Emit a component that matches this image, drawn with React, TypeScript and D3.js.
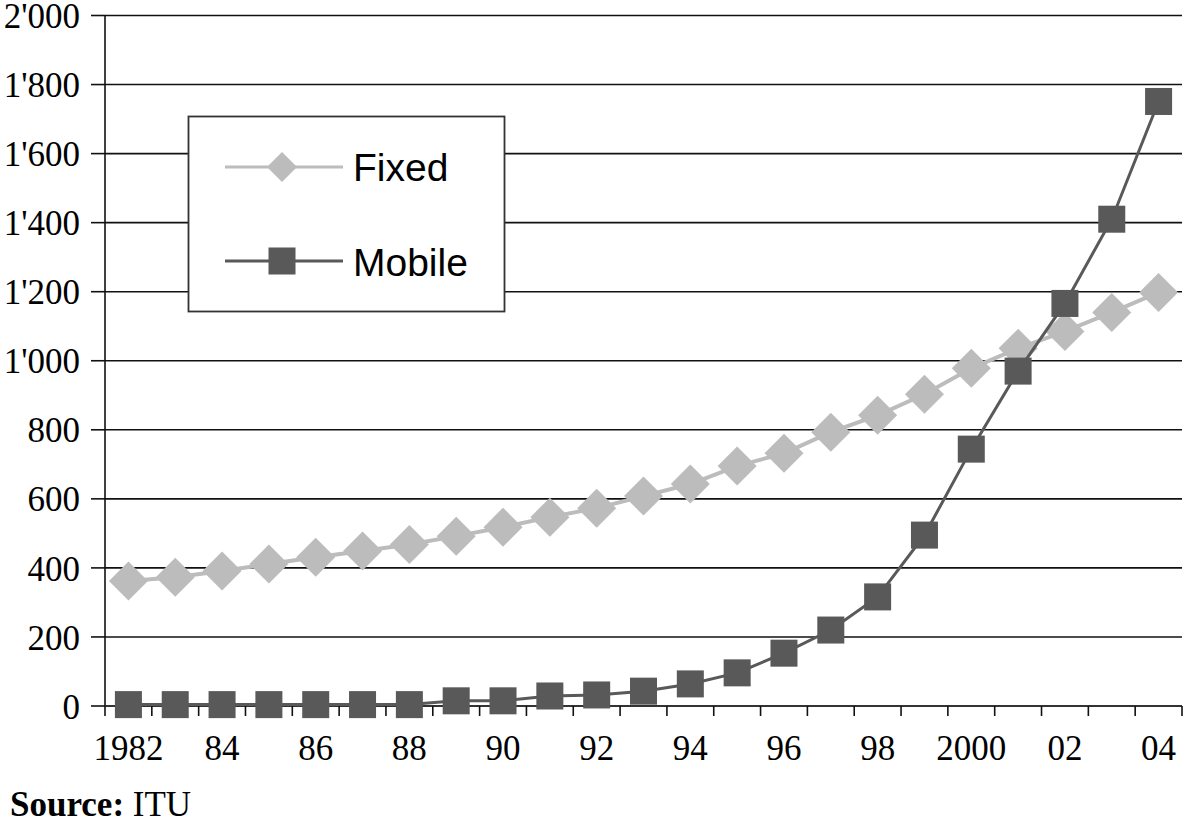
import React from "react";
import * as d3 from "d3";

const years = ["1982","1983","1984","1985","1986","1987","1988","1989","1990","1991","1992","1993","1994","1995","1996","1997","1998","1999","2000","2001","2002","2003","2004"];
const yearLabels = ["1982","","84","","86","","88","","90","","92","","94","","96","","98","","2000","","02","","04"];
const fixedValues = [362,373,391,411,431,449,468,492,518,547,573,608,643,695,732,793,842,903,978,1036,1085,1140,1198];
const mobileValues = [4,4,4,4,4,4,4,15,15,29,32,43,64,96,153,220,316,495,744,970,1166,1410,1751];
const yTicks = [0,200,400,600,800,1000,1200,1400,1600,1800,2000];
const yTickLabels = ["0","200","400","600","800","1'000","1'200","1'400","1'600","1'800","2'000"];

const W = 1192, H = 821;
const left = 105, right = 1182, top = 15.5, bottom = 706;

export default function App() {
  const x = d3.scaleBand<string>().domain(years).range([left, right]).padding(0);
  const y = d3.scaleLinear().domain([0, 2000]).range([bottom, top]);
  const cx = (yr: string) => (x(yr) as number) + x.bandwidth() / 2;
  const line = d3.line<number>().x((_, i) => cx(years[i])).y((v) => y(v));
  const serif = "'Liberation Serif', 'Times New Roman', serif";
  const sans = "'Liberation Sans', Arial, sans-serif";
  const fixedColor = "#bcbcbc";
  const mobileColor = "#595959";
  const sq = 27;
  const dh = 19.5;
  const diamond = (px: number, py: number, h: number) => `M${px},${py - h}L${px + h},${py}L${px},${py + h}L${px - h},${py}Z`;
  const boundaries = years.map((yr) => x(yr) as number).concat([right]);

  return (
    <svg width={W} height={H} style={{ position: "absolute", left: 0, top: 0, background: "#fff" }}>
      {/* gridlines */}
      {yTicks.filter((t) => t > 0).map((t) => (
        <line key={"g" + t} x1={left} x2={right} y1={y(t)} y2={y(t)} stroke="#111" strokeWidth={1.6} />
      ))}
      {/* y ticks and labels */}
      {yTicks.map((t, i) => (
        <g key={"yt" + t}>
          <line x1={91} x2={left} y1={y(t)} y2={y(t)} stroke="#111" strokeWidth={1.6} />
          <text x={80} y={y(t)} dy="0.36em" textAnchor="end" fontFamily={serif} fontSize={35} fill="#000">{yTickLabels[i]}</text>
        </g>
      ))}
      {/* y axis line */}
      <line x1={left} x2={left} y1={top} y2={bottom} stroke="#111" strokeWidth={1.6} />
      {/* x axis */}
      <line x1={left} x2={right} y1={bottom} y2={bottom} stroke="#333" strokeWidth={2} />
      {boundaries.map((bx, i) => (
        <line key={"xt" + i} x1={bx} x2={bx} y1={bottom} y2={bottom + 10} stroke="#111" strokeWidth={1.6} />
      ))}
      {years.map((yr, i) => yearLabels[i] ? (
        <text key={"xl" + yr} x={cx(yr)} y={760} textAnchor="middle" fontFamily={serif} fontSize={35} fill="#000">{yearLabels[i]}</text>
      ) : null)}
      {/* series */}
      <path d={line(fixedValues) || ""} fill="none" stroke={fixedColor} strokeWidth={4} />
      {fixedValues.map((v, i) => (
        <path key={"fd" + i} d={diamond(cx(years[i]), y(v), dh)} fill={fixedColor} />
      ))}
      <path d={line(mobileValues) || ""} fill="none" stroke={mobileColor} strokeWidth={3} />
      {mobileValues.map((v, i) => (
        <rect key={"ms" + i} x={cx(years[i]) - sq / 2} y={y(v) - sq / 2} width={sq} height={sq} fill={mobileColor} />
      ))}
      {/* legend */}
      <rect x={188.5} y={116.5} width={316} height={195} fill="#fff" stroke="#333" strokeWidth={1.8} />
      <line x1={225} x2={343} y1={167} y2={167} stroke={fixedColor} strokeWidth={3} />
      <path d={diamond(282, 167, 15)} fill={fixedColor} />
      <text x={353} y={181} fontFamily={sans} fontSize={39} fill="#000">Fixed</text>
      <line x1={225} x2={343} y1={261} y2={261} stroke={mobileColor} strokeWidth={3} />
      <rect x={282 - 13.5} y={261 - 13.5} width={27} height={27} fill={mobileColor} />
      <text x={353} y={276} fontFamily={sans} fontSize={39} fill="#000">Mobile</text>
      {/* source */}
      <text x={10} y={816} fontFamily={serif} fontSize={35} fill="#000">
        <tspan fontWeight="bold">Source:</tspan> ITU
      </text>
    </svg>
  );
}
